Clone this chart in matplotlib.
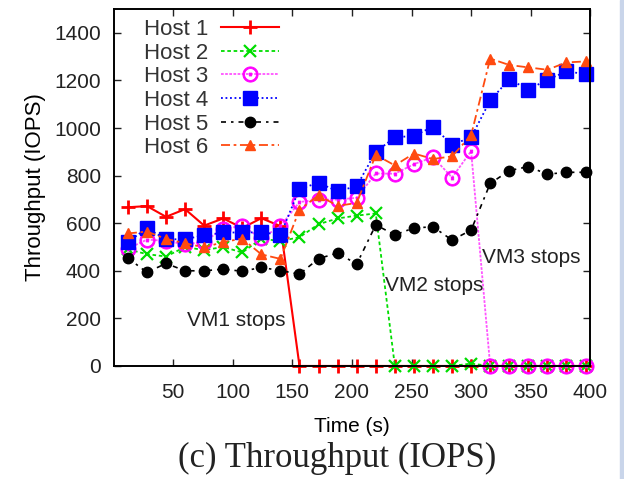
import matplotlib
matplotlib.use("Agg")
import matplotlib.pyplot as plt
from matplotlib.patches import Rectangle

plt.rcParams["font.family"] = ["Liberation Sans", "DejaVu Sans"]

# time of each sample (s)
time_s = [12, 28, 44, 60, 76, 92, 108, 124, 140, 156, 172, 188, 204,
          220, 236, 252, 268, 284, 300, 316, 332, 348, 364, 380, 396]

# throughput per host (IOPS)
host1 = [667, 672, 627, 659, 590, 620, 580, 621, 588, 0, 0, 0, 0,
         0, 0, 0, 0, 0, 0, 0, 0, 0, 0, 0, 0]
host2 = [490, 470, 460, 500, 487, 500, 477, 535, 525, 541, 596, 620, 632,
         641, 0, 0, 0, 0, 10, 0, 0, 0, 0, 0, 0]
host3 = [493, 531, 526, 511, 522, 577, 588, 537, 587, 689, 699, 699, 707,
         809, 808, 848, 878, 792, 903, 0, 0, 0, 0, 0, 0]
host4 = [521, 579, 532, 533, 549, 561, 561, 562, 551, 744, 770, 734, 756,
         900, 961, 967, 1006, 930, 961, 1116, 1205, 1162, 1203, 1238, 1227]
host5 = [454, 393, 431, 400, 400, 407, 398, 414, 401, 386, 451, 475, 428,
         593, 551, 580, 585, 529, 571, 767, 821, 838, 806, 814, 814]
host6 = [557, 565, 534, 516, 498, 521, 535, 469, 450, 657, 717, 673, 685,
         887, 843, 893, 870, 881, 970, 1292, 1265, 1255, 1245, 1276, 1280]

labels = ["Host 1", "Host 2", "Host 3", "Host 4", "Host 5", "Host 6"]

# (time, IOPS, text) for the "VM stops" notes
notes = [(62, 193, "VM1 stops"), (228, 340, "VM2 stops"), (309, 454, "VM3 stops")]

fig = plt.figure(figsize=(6.24, 4.79), dpi=100)
ax = fig.add_axes([0.182, 0.236, 0.764, 0.745])

common = dict(clip_on=False)
ax.plot(time_s, host1, color="#ff0000", ls="-", lw=1.5, marker="+", ms=10, mew=2,
        label=labels[0], **common)
ax.plot(time_s, host2, color="#00dd00", ls=(0, (2, 1.5)), lw=1.3, marker="x", ms=8,
        mew=1.6, label=labels[1], **common)
ax.plot(time_s, host3, color="#ff55ff", ls=(0, (1.5, 0.8)), lw=1.3,
        marker=r"$\odot$", ms=11, mec="#ff00ff", mfc="#ff00ff", mew=0.6,
        label=labels[2], **common)
ax.plot(time_s, host4, color="#0000ff", ls=(0, (1, 1.5)), lw=1.3, marker="s", ms=9.5,
        label=labels[3], **common)
ax.plot(time_s, host5, color="#000000", ls=(0, (3, 3, 1.5, 3)), lw=1.2, marker="o",
        ms=7.5, label=labels[4], **common)
ax.plot(time_s, host6, color="#ff4a10", ls=(0, (5, 2, 1.5, 2)), lw=1.3, marker="^",
        ms=7, label=labels[5], **common)

for x, y, txt in notes:
    ax.text(x, y, txt, fontsize=15, color="#222222", va="center", ha="left")

ax.set_xlim(0, 400)
ax.set_ylim(0, 1500)
ax.set_xticks(range(50, 401, 50))
ax.set_yticks(range(0, 1401, 200))
ax.tick_params(direction="in", top=True, right=True, length=5, width=1,
               labelsize=15, colors="#222222")
ax.tick_params(axis="x", pad=12)
ax.tick_params(axis="y", pad=9)
for sp in ax.spines.values():
    sp.set_linewidth(1.4)

ax.set_xlabel("Time (s)", fontsize=15, labelpad=11)
ax.set_ylabel("Throughput (IOPS)", fontsize=16, labelpad=6)

leg = ax.legend(loc="upper left", bbox_to_anchor=(0.035, 1.01), frameon=False,
                markerfirst=False, fontsize=16, handlelength=2.6,
                handletextpad=0.6, labelspacing=0.12, borderaxespad=0.2)
for t in leg.get_texts():
    t.set_color("#333333")

fig.text(0.54, 0.008, "(c) Throughput (IOPS)", fontsize=25, ha="center",
         va="bottom", family=["Liberation Serif", "DejaVu Serif"], color="#222222")

# light frame edge on the right, as in the screenshot
fig.patches.append(Rectangle((0.993, 0), 0.007, 1, transform=fig.transFigure,
                             color="#c9d5ea", zorder=0))

fig.savefig("out.png", dpi=100)
